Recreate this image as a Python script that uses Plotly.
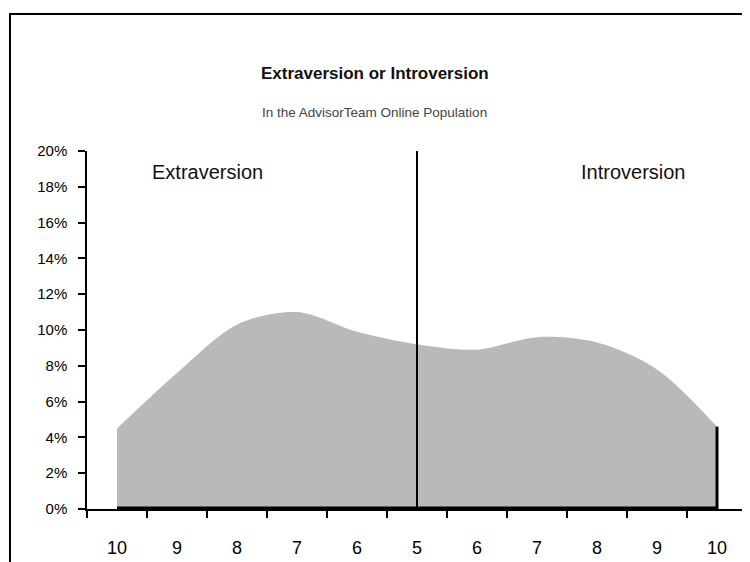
import plotly.graph_objects as go

# ---- data ----
tick_labels = ["10", "9", "8", "7", "6", "5", "6", "7", "8", "9", "10"]
scores = list(range(len(tick_labels)))  # positions along the scale
share_pct = [4.5, 7.6, 10.3, 11.0, 9.9, 9.2, 8.9, 9.6, 9.3, 7.8, 4.6]
y_ticks = [0, 2, 4, 6, 8, 10, 12, 14, 16, 18, 20]
divider_pos = 5
side_labels = ["Extraversion", "Introversion"]
side_label_pos = [1.5, 8.6]
side_label_y = 18.8

FONT = "Liberation Sans, Arial, sans-serif"

fig = go.Figure()

# main smoothed area
fig.add_trace(go.Scatter(
    x=scores, y=share_pct, mode="lines", line=dict(color="#b9b9b9", width=0, shape="spline", smoothing=0.9),
    fill="tozeroy", fillcolor="#b9b9b9", hoverinfo="skip", showlegend=False,
))
# dark base band (3D floor effect)
fig.add_trace(go.Scatter(
    x=scores, y=[0] * len(scores), mode="lines", line=dict(color="black", width=5),
    hoverinfo="skip", showlegend=False,
))
# dark right edge
fig.add_trace(go.Scatter(
    x=[scores[-1], scores[-1]], y=[0, share_pct[-1]], mode="lines", line=dict(color="black", width=3),
    hoverinfo="skip", showlegend=False,
))

# divider
fig.add_shape(type="line", xref="x", yref="paper", x0=divider_pos, x1=divider_pos, y0=0, y1=1,
              line=dict(color="black", width=2))

# outer frame
fig.add_shape(type="rect", xref="paper", yref="paper", x0=-0.1167, x1=1.03, y0=-0.2, y1=1.3827,
              line=dict(color="black", width=2), fillcolor="rgba(0,0,0,0)", layer="below")

for name, xp in zip(side_labels, side_label_pos):
    fig.add_annotation(x=xp, y=side_label_y, xref="x", yref="y", text=name, showarrow=False,
                       font=dict(family=FONT, size=20, color="#111"))

fig.add_annotation(x=0.436, y=1.2486, xref="paper", yref="paper", text="<b>Extraversion or Introversion</b>",
                   showarrow=False, font=dict(family=FONT, size=17, color="#111"))
fig.add_annotation(x=0.436, y=1.134, xref="paper", yref="paper", text="In the AdvisorTeam Online Population",
                   showarrow=False, font=dict(family=FONT, size=13.5, color="#444"))

# page has an 8px body margin: figure is shifted accordingly
fig.update_layout(
    width=742, height=554,
    margin=dict(l=79, r=3, t=143, b=53),
    paper_bgcolor="white", plot_bgcolor="white",
    font=dict(family=FONT, color="black"),
    showlegend=False,
)
fig.update_xaxes(
    range=[-0.5, 10.5], tickmode="array", tickvals=scores, ticktext=tick_labels,
    ticks="", ticklen=0, showgrid=False, zeroline=False,
    showline=True, linecolor="black", linewidth=1.5,
    tickfont=dict(family=FONT, size=18),
    ticklabelstandoff=22,
    minor=dict(tickvals=[s - 0.5 for s in scores] + [scores[-1] + 0.5], ticks="outside", ticklen=7,
               tickcolor="black", tickwidth=1.5, showgrid=False),
)
fig.update_yaxes(
    range=[0, 20], tickmode="array", tickvals=y_ticks, ticktext=[f"{v}%" for v in y_ticks],
    ticks="outside", ticklen=7, tickcolor="black", tickwidth=1.5,
    showgrid=False, zeroline=False, showline=True, linecolor="black", linewidth=1.5,
    tickfont=dict(family=FONT, size=15),
    ticklabelstandoff=8,
)

fig.write_html("out.html")
